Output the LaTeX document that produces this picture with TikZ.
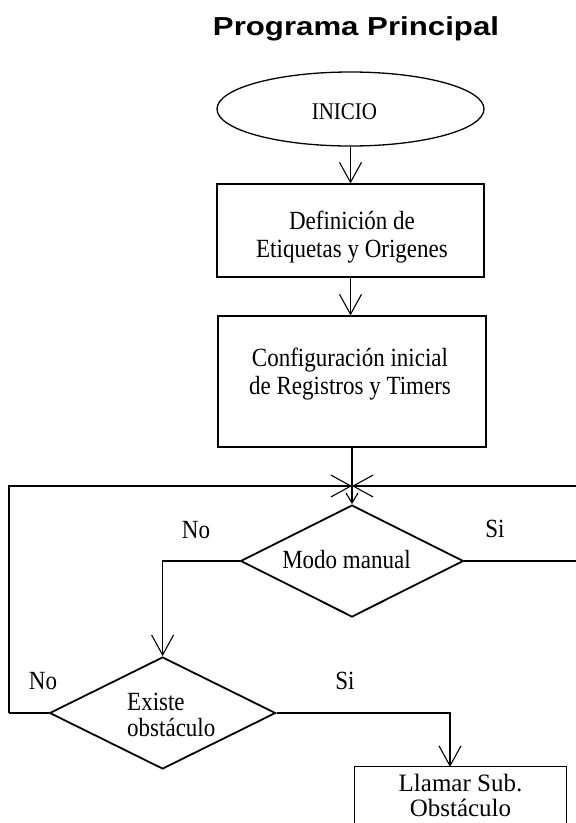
\documentclass[tikz,border=0pt]{standalone}
\usepackage{fontspec}
\setmainfont{Liberation Serif}
\newfontfamily\titlefont{Liberation Sans}
\usetikzlibrary{shapes.geometric,arrows.meta}

% tall serif text used inside the flowchart shapes
\newcommand{\tallt}[1]{\scalebox{1}[1.14]{#1}}

\begin{document}
\begin{tikzpicture}[x=1pt,y=-1pt,
  every node/.style={inner sep=0pt},
  txt/.style={font=\fontsize{23}{28}\selectfont, align=center},
  lbl/.style={font=\fontsize{23}{26}\selectfont},
  procbox/.style={draw, line width=1.1pt, rectangle},
  decision/.style={draw, line width=1.8pt, diamond},
  flow/.style={line width=1.1pt},
  arr/.style={-{Straight Barb[length=20pt,width=22pt]}},
  smallarr/.style={-{Straight Barb[length=10pt,width=12pt]}}]
\useasboundingbox (0,0) rectangle (576,823);

% title
\node (title) at (356,29) {\titlefont\bfseries\fontsize{26}{30}\selectfont\scalebox{1.2}[1]{Programa Principal}};

% start
\node[draw, ellipse, line width=1.3pt, minimum width=267pt, minimum height=74pt] (ini) at (350.5,109) {};
\node[font=\fontsize{21}{24}\selectfont] (tini) at (344.5,112) {\tallt{INICIO}};

% process boxes
\node[procbox, minimum width=267pt, minimum height=93pt] (b1) at (350.5,230.5) {};
\node[txt] (t1) at (352,237) {\tallt{Definición de}\\\tallt{Etiquetas y Origenes}};

\node[procbox, minimum width=268pt, minimum height=131pt] (b2) at (352,381.5) {};
\node[txt] (t2) at (350,374) {\tallt{Configuración inicial}\\\tallt{de Registros y Timers}};

% decisions
\node[decision, minimum width=223pt, minimum height=112pt] (d1) at (352,561) {};
\node[txt] (td1) at (346.5,560) {\tallt{Modo manual}};

\node[decision, minimum width=226pt, minimum height=112pt] (d2) at (162.6,713) {};
\node[font=\fontsize{23}{26}\selectfont, align=left, anchor=west] (td2) at (127,715) {\tallt{Existe}\\\tallt{obstáculo}};

% subroutine call box, running off the bottom edge
\node[minimum width=211pt, minimum height=56pt, align=center,
      font=\fontsize{25}{25}\selectfont] (b3) at (460.5,795) {Llamar Sub.\\Obstáculo};
\draw[flow] (b3.south west) -- (b3.north west) -- (b3.north east) -- (b3.south east);

% branch labels
\node[lbl] (no1) at (196,530) {\tallt{No}};
\node[lbl] (si1) at (495,529) {\tallt{Si}};
\node[lbl] (no2) at (43,681) {\tallt{No}};
\node[lbl] (si2) at (345,681) {\tallt{Si}};

% helper points
\coordinate (j) at (352,486);
\coordinate (lft) at (9,713);
\coordinate (rtop) at (576,486);
\coordinate (rmid) at (576,561);
\coordinate (t3) at (450,767);

% connectors
\draw[flow, arr] (ini.south) -- (ini.south |- b1.north);
\draw[flow, arr] (b1.south) -- (b1.south |- b2.north);
\draw[flow] (b2.south) -- (j);
\draw[flow] (d2.west) -- (lft);
\draw[flow, arr] (lft) |- (j);
\draw[flow, arr] (rtop) -- (j);
\draw[flow, smallarr] (j) -- (d1.north);
\draw[flow] (d1.east) -- (rmid);
\draw[flow, arr] (d1.west) -| (d2.north);
\draw[flow, arr] (d2.east) -| (t3);
\end{tikzpicture}
\end{document}
